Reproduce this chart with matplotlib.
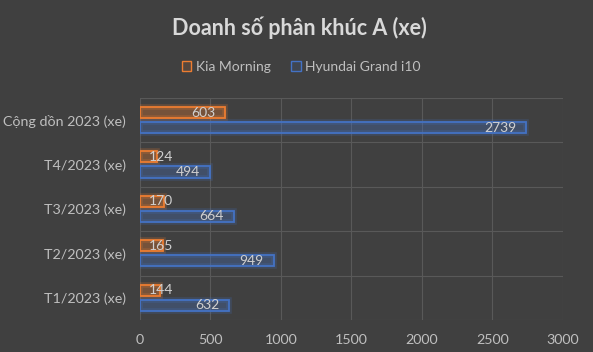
import matplotlib.pyplot as plt
import matplotlib.patheffects as pe
import numpy as np

categories = ["T1/2023 (xe)", "T2/2023 (xe)", "T3/2023 (xe)", "T4/2023 (xe)", "Cộng dồn 2023 (xe)"]
kia = [144, 165, 170, 124, 603]
hyundai = [632, 949, 664, 494, 2739]
series_names = ["Kia Morning", "Hyundai Grand i10"]

plt.rcParams['font.family'] = ['Lato', 'DejaVu Sans']

bg = "#404040"
txt = "#d0d0d0"
orange = "#ed7d31"
blue = "#4472c4"

fig = plt.figure(figsize=(5.93, 3.52), dpi=100, facecolor=bg)
ax = fig.add_axes([0.236, 0.091, 0.713, 0.631], facecolor=bg)

y = np.arange(len(categories))
h = 0.25
off = 0.17

glow = lambda c: [pe.Stroke(linewidth=4, foreground=c, alpha=0.22), pe.Normal()]

b1 = ax.barh(y + off, kia, height=h, facecolor=(0.93, 0.49, 0.19, 0.12),
             edgecolor=orange, linewidth=1.3, label=series_names[0])
b2 = ax.barh(y - off, hyundai, height=h, facecolor=(0.27, 0.45, 0.77, 0.12),
             edgecolor=blue, linewidth=1.3, label=series_names[1])
for b in list(b1) + list(b2):
    b.set_path_effects(glow(b.get_edgecolor()[:3]))

for vals, dy in [(kia, off), (hyundai, -off)]:
    for i, v in enumerate(vals):
        ax.text(max(v - 71, 234), i + dy, str(v), ha="right", va="center",
                color=txt, fontsize=10)

ax.set_xlim(0, 3000)
ax.set_ylim(-0.5, len(categories) - 0.5)
ax.set_xticks(np.arange(0, 3001, 500))
ax.set_yticks(y)
ax.set_yticklabels(categories)
ax.set_yticks(np.arange(-0.5, len(categories), 1), minor=True)
ax.tick_params(axis="both", which="both", length=0, colors="#bfbfbf", labelsize=10.3)
ax.tick_params(axis="x", pad=10)
ax.tick_params(axis="y", pad=10)
ax.grid(axis="x", color="#595959", linewidth=0.8)
ax.grid(axis="y", which="minor", color="#595959", linewidth=0.8)
ax.set_axisbelow(True)
for s in ax.spines.values():
    s.set_visible(False)

fig.text(0.505, 0.92, "Doanh số phân khúc A (xe)", ha="center", va="center",
         color="#d9d9d9", fontsize=15.5, fontweight="bold")

leg = fig.legend(handles=[b1, b2], loc="center", bbox_to_anchor=(0.508, 0.81), ncol=2,
                 frameon=False, fontsize=10, labelcolor="#bfbfbf",
                 handlelength=0.7, handleheight=0.7, handletextpad=0.3, columnspacing=1.5)
for hd in leg.legend_handles:
    hd.set_path_effects([])
    hd.set_linewidth(1.0)

fig.savefig("out.png", dpi=100, facecolor=bg)
